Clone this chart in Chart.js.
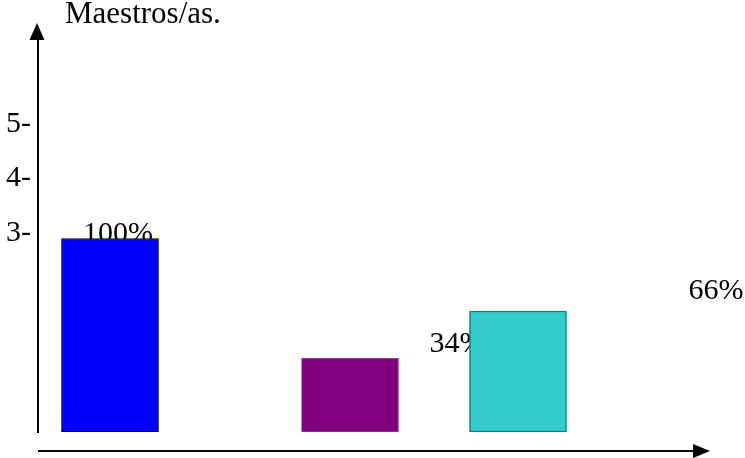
<!DOCTYPE html>
<html lang="es">
<head>
    <meta charset="UTF-8">
    <title>Maestros/as.</title>
    <script src="https://cdn.jsdelivr.net/npm/chart.js"></script>
    <style>
        html, body {
            margin: 0;
            padding: 0;
            background: #fff;
        }
        #wrap {
            width: 745px;
            height: 458px;
        }
    </style>
</head>
<body>
    <div id="wrap"><canvas id="chart"></canvas></div>

    <script>
        // Data (y values on the drawn 3-/4-/5- axis)
        const xPos = [0.75, 3.25, 5.0];
        const values = [2.9, 0.7, 1.57];
        const pctLabels = ["100%", "34%", "66%"];
        const tickValues = [3, 4, 5];
        const yMin = -0.65;
        const yMax = 6.58;

        const FONT = "'Liberation Serif', 'Times New Roman', serif";

        // axis arrows, title and the percentage labels
        const decor = {
            id: "decor",
            beforeDatasetsDraw(chart, args, opts) {
                const ctx = chart.ctx;
                const bars = chart.getDatasetMeta(0).data;
                ctx.save();
                ctx.font = "30px " + FONT;
                ctx.fillStyle = "#000";
                ctx.textAlign = "center";
                ctx.textBaseline = "alphabetic";
                pctLabels.forEach((txt, i) => {
                    const b = bars[i];
                    const off = opts.labelOffsets[i];
                    ctx.fillText(txt, b.x + off[0], b.y + off[1]);
                });
                ctx.restore();
            },
            afterDraw(chart) {
                const ctx = chart.ctx;
                const a = chart.chartArea;
                ctx.save();
                ctx.fillStyle = "#000";
                ctx.strokeStyle = "#000";

                // y arrow head
                const yx = a.left - 1;
                ctx.beginPath();
                ctx.moveTo(yx, a.top - 15);
                ctx.lineTo(yx - 7.5, a.top + 2);
                ctx.lineTo(yx + 7.5, a.top + 2);
                ctx.closePath();
                ctx.fill();

                // x axis with arrow
                const ay = a.bottom + 19;
                ctx.lineWidth = 2;
                ctx.beginPath();
                ctx.moveTo(a.left, ay);
                ctx.lineTo(a.right - 14, ay);
                ctx.stroke();
                ctx.beginPath();
                ctx.moveTo(a.right, ay);
                ctx.lineTo(a.right - 17, ay - 7);
                ctx.lineTo(a.right - 17, ay + 7);
                ctx.closePath();
                ctx.fill();

                // title
                ctx.font = "31px " + FONT;
                ctx.textAlign = "left";
                ctx.textBaseline = "alphabetic";
                ctx.fillText("Maestros/as.", 65, 23);
                ctx.restore();
            }
        };

        new Chart(document.getElementById("chart"), {
            type: "bar",
            data: {
                datasets: [{
                    data: xPos.map((x, i) => ({ x: x, y: values[i] })),
                    base: yMin,
                    backgroundColor: ["#0000FF", "#800080", "#33CCCC"],
                    borderColor: ["#000000", "#9A3A9A", "#008080"],
                    borderWidth: [1, 1, 1.5],
                    borderSkipped: false,
                    barThickness: 97
                }]
            },
            plugins: [decor],
            options: {
                responsive: true,
                maintainAspectRatio: false,
                animation: false,
                layout: {
                    padding: { top: 38, right: 35, bottom: 26, left: 0 }
                },
                plugins: {
                    legend: { display: false },
                    tooltip: { enabled: false },
                    decor: {
                        labelOffsets: [[8, 3], [107, -6], [198, -12]]
                    }
                },
                scales: {
                    x: {
                        type: "linear",
                        display: false,
                        offset: false,
                        min: 0,
                        max: 7
                    },
                    y: {
                        min: yMin,
                        max: yMax,
                        afterBuildTicks: s => { s.ticks = tickValues.map(v => ({ value: v })); },
                        afterFit: s => { s.width = 38; },
                        grid: { display: false, drawTicks: false },
                        border: { display: true, color: "#000", width: 2 },
                        ticks: {
                            color: "#000",
                            padding: 7,
                            font: { family: FONT, size: 30 },
                            callback: v => v + "-"
                        }
                    }
                }
            }
        });
    </script>
</body>
</html>
